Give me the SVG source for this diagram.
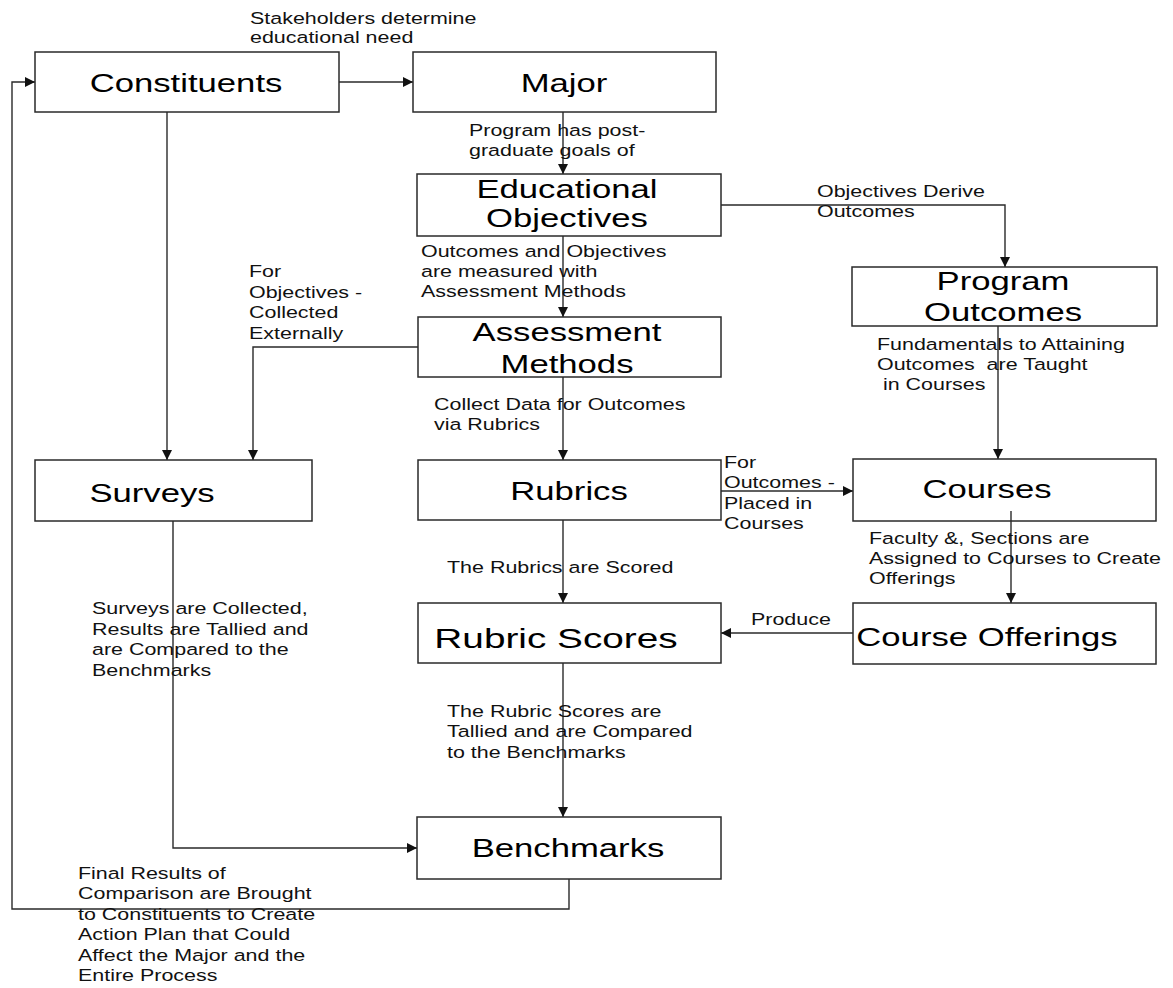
<svg xmlns="http://www.w3.org/2000/svg" width="1173" height="988" viewBox="0 0 1173 988">
<style>
.box{fill:#fff;stroke:#2a2a2a;stroke-width:1.5}
.n{font-family:"Liberation Sans",Arial,sans-serif;font-size:25.5px;fill:#000;text-anchor:middle}
.s{font-family:"Liberation Sans",Arial,sans-serif;font-size:16.5px;fill:#111;white-space:pre}
.c{fill:none;stroke:#2a2a2a;stroke-width:1.4}
</style>
<defs>
<marker id="ah" viewBox="0 0 10 10" refX="10" refY="5" markerWidth="11" markerHeight="10" markerUnits="userSpaceOnUse" orient="auto">
<path d="M0,0 L10,5 L0,10 z" fill="#111"/>
</marker>
</defs>
<rect width="1173" height="988" fill="#fff"/>
<g id="connectors">
<path class="c" d="M339,82 H413" marker-end="url(#ah)"/>
<path class="c" d="M167,112 V460" marker-end="url(#ah)"/>
<path class="c" d="M563,112 V174" marker-end="url(#ah)"/>
<path class="c" d="M721,205 H1005 V267" marker-end="url(#ah)"/>
<path class="c" d="M563,236 V317" marker-end="url(#ah)"/>
<path class="c" d="M418,347 H253 V460" marker-end="url(#ah)"/>
<path class="c" d="M563,377 V460" marker-end="url(#ah)"/>
<path class="c" d="M998,326 V459" marker-end="url(#ah)"/>
<path class="c" d="M721,491 H853" marker-end="url(#ah)"/>
<path class="c" d="M563,520 V603" marker-end="url(#ah)"/>
<path class="c" d="M853,633 H721" marker-end="url(#ah)"/>
<path class="c" d="M563,663 V817" marker-end="url(#ah)"/>
<path class="c" d="M173,521 V848 H417" marker-end="url(#ah)"/>
<path class="c" d="M569,879 V909 H12 V82 H35" marker-end="url(#ah)"/>
</g>
<g id="node-constituents"><rect class="box" x="35" y="52" width="304" height="60"/><text class="n" transform="translate(186,92) scale(1.36,1)">Constituents</text></g>
<g id="node-major"><rect class="box" x="413" y="52" width="303" height="60"/><text class="n" transform="translate(564,92) scale(1.36,1)">Major</text></g>
<g id="node-edu"><rect class="box" x="417" y="174" width="304" height="62"/><text class="n" transform="translate(567,198) scale(1.36,1)"><tspan x="0" y="0">Educational</tspan><tspan x="0" y="29">Objectives</tspan></text></g>
<g id="node-program-outcomes"><rect class="box" x="852" y="267" width="305" height="59"/><text class="n" transform="translate(1003,290) scale(1.36,1)"><tspan x="0" y="0">Program</tspan><tspan x="0" y="31">Outcomes</tspan></text></g>
<g id="node-assessment"><rect class="box" x="418" y="317" width="303" height="60"/><text class="n" transform="translate(567,341) scale(1.36,1)"><tspan x="0" y="0">Assessment</tspan><tspan x="0" y="32">Methods</tspan></text></g>
<g id="node-surveys"><rect class="box" x="35" y="460" width="277" height="61"/><text class="n" transform="translate(152,502) scale(1.36,1)">Surveys</text></g>
<g id="node-rubrics"><rect class="box" x="418" y="460" width="303" height="60"/><text class="n" transform="translate(569,500) scale(1.36,1)">Rubrics</text></g>
<g id="node-courses"><rect class="box" x="853" y="459" width="303" height="62"/><text class="n" transform="translate(987,498) scale(1.36,1)">Courses</text></g>
<g id="node-course-offerings"><rect class="box" x="853" y="603" width="303" height="61"/><text class="n" transform="translate(987,646) scale(1.36,1)">Course Offerings</text></g>
<g id="node-rubric-scores"><rect class="box" x="418" y="603" width="303" height="60"/><text class="n" style="font-size:28.5px" transform="translate(556,648) scale(1.36,1)">Rubric Scores</text></g>
<g id="node-benchmarks"><rect class="box" x="417" y="817" width="304" height="62"/><text class="n" transform="translate(568,857) scale(1.36,1)">Benchmarks</text></g>
<g id="connector-courses-offerings"><path class="c" d="M1011,511 V603" marker-end="url(#ah)"/></g>
<g id="labels">
<text class="s" transform="translate(250,24) scale(1.3,1)"><tspan x="0" y="0">Stakeholders determine</tspan><tspan x="0" y="19">educational need</tspan></text>
<text class="s" transform="translate(469,136) scale(1.3,1)"><tspan x="0" y="0">Program has post-</tspan><tspan x="0" y="20">graduate goals of</tspan></text>
<text class="s" transform="translate(817,197) scale(1.3,1)"><tspan x="0" y="0">Objectives Derive</tspan><tspan x="0" y="20">Outcomes</tspan></text>
<text class="s" transform="translate(421,257) scale(1.3,1)"><tspan x="0" y="0">Outcomes and Objectives</tspan><tspan x="0" y="20">are measured with</tspan><tspan x="0" y="40">Assessment Methods</tspan></text>
<text class="s" transform="translate(249,277) scale(1.3,1)"><tspan x="0" y="0">For</tspan><tspan x="0" y="20.7">Objectives -</tspan><tspan x="0" y="41.4">Collected</tspan><tspan x="0" y="62">Externally</tspan></text>
<text class="s" transform="translate(434,410) scale(1.3,1)"><tspan x="0" y="0">Collect Data for Outcomes</tspan><tspan x="0" y="20">via Rubrics</tspan></text>
<text class="s" transform="translate(877,350) scale(1.3,1)"><tspan x="0" y="0">Fundamentals to Attaining</tspan><tspan x="0" y="20">Outcomes  are Taught</tspan><tspan x="0" y="40"> in Courses</tspan></text>
<text class="s" transform="translate(724,468) scale(1.3,1)"><tspan x="0" y="0">For</tspan><tspan x="0" y="20.5">Outcomes -</tspan><tspan x="0" y="41">Placed in</tspan><tspan x="0" y="61">Courses</tspan></text>
<text class="s" transform="translate(869,544) scale(1.3,1)"><tspan x="0" y="0">Faculty &amp;, Sections are</tspan><tspan x="0" y="20">Assigned to Courses to Create</tspan><tspan x="0" y="40">Offerings</tspan></text>
<text class="s" transform="translate(751,625) scale(1.3,1)">Produce</text>
<text class="s" transform="translate(447,573) scale(1.3,1)">The Rubrics are Scored</text>
<text class="s" transform="translate(92,614) scale(1.3,1)"><tspan x="0" y="0">Surveys are Collected,</tspan><tspan x="0" y="20.7">Results are Tallied and</tspan><tspan x="0" y="41.4">are Compared to the</tspan><tspan x="0" y="62">Benchmarks</tspan></text>
<text class="s" transform="translate(447,717) scale(1.3,1)"><tspan x="0" y="0">The Rubric Scores are</tspan><tspan x="0" y="20.5">Tallied and are Compared</tspan><tspan x="0" y="41">to the Benchmarks</tspan></text>
<text class="s" transform="translate(78,879) scale(1.3,1)"><tspan x="0" y="0">Final Results of</tspan><tspan x="0" y="20.4">Comparison are Brought</tspan><tspan x="0" y="40.8">to Constituents to Create</tspan><tspan x="0" y="61.2">Action Plan that Could</tspan><tspan x="0" y="81.6">Affect the Major and the</tspan><tspan x="0" y="102">Entire Process</tspan></text>
</g>
</svg>
